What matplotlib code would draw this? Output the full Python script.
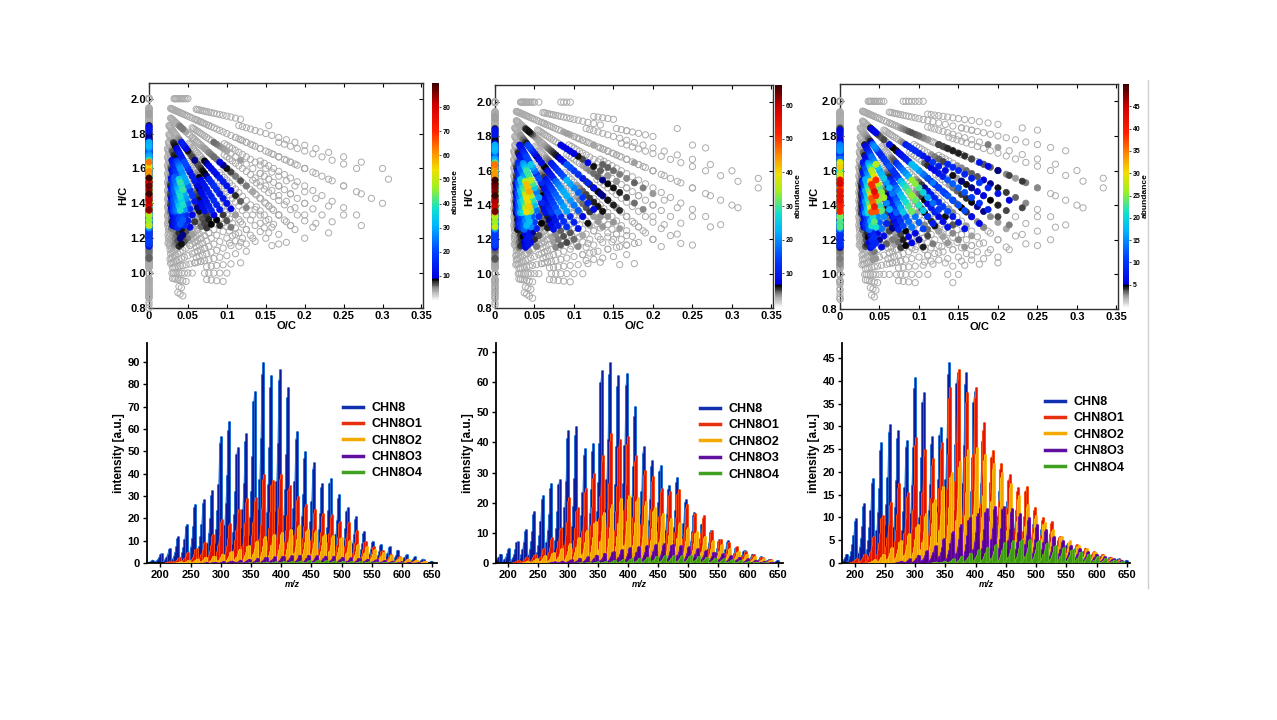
import numpy as np
import matplotlib
matplotlib.use('Agg')
import matplotlib.pyplot as plt
from matplotlib.colors import LinearSegmentedColormap, Normalize
from matplotlib.cm import ScalarMappable
from matplotlib.lines import Line2D

plt.rcParams['font.family'] = ['Liberation Sans', 'DejaVu Sans']

# compound classes shown in the spectra
classes = ['CHN8', 'CHN8O1', 'CHN8O2', 'CHN8O3', 'CHN8O4']
n_oxygen = [0, 1, 2, 3, 4]

# nominal mass of the first cluster of every class (clusters are 14 Da apart)
starts_d = [174, 218, 234, 278, 336]
starts_e = [174, 218, 234, 278, 322]
starts_f = [188, 204, 234, 278, 336]

# height of the tallest line in each cluster
d_chn8 = [1.0, 1.5, 4.5, 6.8, 12, 17.5, 26.5, 28.5, 32.5, 57, 63.5, 52, 58, 77, 90, 84, 87, 79,
          59, 50, 45, 36, 38, 31, 25, 21, 14.5, 10, 8.7, 7.5, 6, 4, 3, 2, 1]
d_o1 = [1, 2.5, 5, 6.5, 9.5, 13, 19.5, 18, 24, 29, 29.6, 40, 37, 40, 35, 30, 26.6, 24, 22.5, 22,
        19, 18.4, 14.7, 10, 7.5, 5.7, 4, 3, 2, 1.5, 1]
d_o2 = [0.7, 1.2, 2, 2.7, 3.3, 4.2, 5.4, 6.4, 8, 10, 12, 13, 14, 15.4, 17, 15.4, 14.7, 13, 12.4,
        11.7, 10.5, 8.7, 7.5, 6.4, 5, 3.7, 2.7, 2, 1.5, 0.9]
d_o3 = [0.3, 0.5, 0.8, 1.1, 1.5, 1.9, 2.3, 2.7, 3.0, 3.3, 3.5, 3.6, 3.6, 3.5, 3.3, 3.1, 2.8, 2.5,
        2.2, 1.9, 1.6, 1.3, 1.0, 0.7, 0.5, 0.3]
d_o4 = [0.2, 0.3, 0.4, 0.6, 0.7, 0.9, 1.0, 1.1, 1.2, 1.2, 1.2, 1.1, 1.0, 0.9, 0.8, 0.7, 0.5, 0.4,
        0.3, 0.2]

e_chn8 = [1.4, 3.1, 5.1, 7.3, 11.4, 17.3, 22.5, 26.4, 28, 44, 45.3, 38, 39.7, 64, 66.6, 62.5, 63,
          52, 38.8, 34.2, 32.5, 26, 28.6, 21.4, 17, 13.6, 10.9, 7.8, 7.5, 5.3, 4.4, 3.1, 2.2, 1.4, 0.9]
e_o1 = [1, 2, 3, 5, 8.5, 11.7, 22, 18.5, 25, 30, 35.8, 43, 41, 42, 36, 31, 29, 25, 24, 24.5, 19.5,
        16.5, 16, 11, 8, 7, 5.5, 4, 3, 2, 1.3]
e_o2 = [0.8, 1.5, 2.5, 3.5, 5, 6.5, 8.5, 11, 14, 17, 19.5, 21.5, 22.5, 22, 20.5, 18.5, 16.5, 15,
        13.5, 12, 10.5, 9, 7.5, 6.2, 5, 4, 3, 2.2, 1.5, 1]
e_o3 = [0.5, 0.8, 1.2, 1.7, 2.2, 2.8, 3.4, 4, 4.6, 5.2, 5.7, 6.1, 6.4, 6.5, 6.3, 6, 5.5, 5, 4.4,
        3.8, 3.2, 2.6, 2, 1.5, 1.1, 0.7, 0.4]
e_o4 = [0.2, 0.3, 0.5, 0.7, 0.9, 1.2, 1.5, 1.8, 2.1, 2.3, 2.5, 2.6, 2.6, 2.5, 2.3, 2.1, 1.8, 1.5,
        1.2, 0.9, 0.6, 0.4, 0.2]

f_chn8 = [2, 9.9, 13.2, 18.7, 26.5, 30.6, 29.3, 27, 40.9, 37.6, 27.8, 29.9, 44.1, 42, 41.9, 37.7,
          28.5, 19, 16.8, 14.5, 12.3, 10, 9, 8, 6.8, 5.4, 4.3, 3.5, 2.8, 2, 1.7, 1.3, 1, 0.7]
f_o1 = [1, 2, 6, 10.5, 13.5, 17.5, 15.5, 27.6, 25, 23, 26.6, 38.6, 42.7, 37.5, 38.6, 31, 24.8, 22,
        19.5, 16.7, 16.8, 12.3, 10, 9.3, 6, 4.6, 4.2, 3.4, 2.6, 2, 1.4, 0.8]
f_o2 = [0.8, 2, 3.5, 5, 6.5, 8.5, 11, 14, 17, 20, 22.5, 25, 25.5, 24, 22, 20, 17.5, 15, 13, 10.5,
        9, 7.5, 6, 5, 4, 3.2, 2.5, 1.8, 1.2, 0.7]
f_o3 = [0.5, 1, 1.8, 2.8, 4, 5.5, 7, 8.5, 10, 11, 12, 12.5, 12.5, 12, 11, 10, 8.5, 7.5, 6, 5, 4,
        3.3, 2.6, 2, 1.5, 1, 0.6]
f_o4 = [0.3, 0.5, 1, 1.6, 2.3, 3, 3.6, 4.1, 4.6, 5, 5.2, 5.3, 5, 4.5, 4, 3.5, 3, 2.5, 2, 1.5, 1.1,
        0.7, 0.4]

# carbon number of each class at an anchor mass
mass_anchor = [370, 372, 374, 376, 378]
carbon_anchor = [22, 23, 20, 16, 15]

# share of a cluster's abundance found at each H/C (read from the O/C = 0 strip)
hc_bins = [0.8, 0.9, 1.0, 1.1, 1.2, 1.3, 1.4, 1.5, 1.6, 1.7, 1.8, 1.9, 2.0]
hc_share = [0.005, 0.01, 0.025, 0.07, 0.22, 0.55, 0.95, 1.0, 0.7, 0.35, 0.14, 0.05, 0.015]
# smallest abundance that still shows up as a point
min_abundance = 0.3

# relative heights of the lines inside one spectral cluster (2 Da steps)
dbe_steps = [-4, -3, -2, -1, 0, 1, 2, 3, 4, 5, 6, 7, 8]
dbe_weights = [0.01, 0.015, 0.03, 0.08, 1.0, 0.94, 0.62, 0.42, 0.27, 0.16, 0.09, 0.05, 0.025]

fill_colors = ['#2a86e0', '#ff5a14', '#ffc21a', '#7a18b8', '#6cb828']
line_colors = ['#0a1c9c', '#e21400', '#f2a400', '#560090', '#3c9a12']
legend_colors = ['#1030b0', '#e83010', '#f5a800', '#6010a0', '#40a020']

# abundance colour scale: grey -> black -> jet
cmap = LinearSegmentedColormap.from_list('abund', [
    (0.00, '#f4f4f4'), (0.05, '#9a9a9a'), (0.095, '#000000'), (0.10, '#0000e0'),
    (0.22, '#0040ff'), (0.34, '#00b4ff'), (0.42, '#10e0d0'), (0.52, '#a0f020'),
    (0.60, '#f0e000'), (0.68, '#ff9000'), (0.78, '#ff2000'), (0.90, '#d00000'),
    (1.00, '#3a0000')])

W, H = 1277, 720
fig = plt.figure(figsize=(W / 100, H / 100), dpi=100)


def fr(x0, y0, x1, y1):
    return [x0 / W, 1 - y1 / H, (x1 - x0) / W, (y1 - y0) / H]


def points(starts, series):
    oc, hc, ab = [], [], []
    for o, m0, heights in zip(n_oxygen, starts, series):
        for k, top in enumerate(heights):
            m = m0 + 14 * k
            c = carbon_anchor[o] + (m - mass_anchor[o]) // 14
            for h in range(2 * c, int(0.78 * c), -2):
                r = h / c
                b = int(np.clip(np.rint((r - hc_bins[0]) / 0.1), 0, len(hc_bins) - 1))
                oc.append(o / c)
                hc.append(r)
                ab.append(top * hc_share[b])
    return np.array(oc), np.array(hc), np.array(ab)


def vk_panel(box, cbox, starts, series, vmax, cticks, letter, ylim_top):
    ax = fig.add_axes(fr(*box))
    oc, hc, ab = points(starts, series)
    keep = (hc >= 0.79) & (hc <= ylim_top) & (oc <= 0.35) & (ab >= min_abundance)
    oc, hc, ab = oc[keep], hc[keep], ab[keep]
    order = np.argsort(ab)
    oc, hc, ab = oc[order], hc[order], ab[order]
    norm = Normalize(0, vmax)
    low = ab < 0.045 * vmax
    ax.scatter(oc[low], hc[low], s=20, facecolors='none', edgecolors='#ababab',
               linewidths=0.7, zorder=3, clip_on=False)
    cols = cmap(norm(ab[~low]))
    ax.scatter(oc[~low], hc[~low], s=20, c=cols, edgecolors=cols, linewidths=0.5,
               zorder=4, clip_on=False)
    ax.set_xlim(0, 0.352)
    ax.set_ylim(0.8, ylim_top)
    ax.set_xticks([0, 0.05, 0.1, 0.15, 0.2, 0.25, 0.3, 0.35])
    ax.set_xticklabels(['0', '0.05', '0.1', '0.15', '0.2', '0.25', '0.3', '0.35'])
    ax.set_yticks([0.8, 1.0, 1.2, 1.4, 1.6, 1.8, 2.0])
    ax.set_yticklabels(['0.8', '1.0', '1.2', '1.4', '1.6', '1.8', '2.0'])
    ax.tick_params(direction='in', length=3, width=0.8, top=True, right=True,
                   labelsize=8, pad=2)
    for t in ax.get_xticklabels() + ax.get_yticklabels():
        t.set_fontweight('bold')
    for s in ax.spines.values():
        s.set_linewidth(1.0)
        s.set_color('#303030')
    ax.set_xlabel('O/C', fontsize=8, fontweight='bold', labelpad=0)
    ax.set_ylabel('H/C', fontsize=8, fontweight='bold', labelpad=2)
    fig.text(box[0] + 6 / W, 1 - (box[1] + 31) / H, letter, fontsize=18, va='baseline')

    cax = fig.add_axes(fr(*cbox))
    cb = fig.colorbar(ScalarMappable(norm=norm, cmap=cmap), cax=cax)
    cb.set_ticks(cticks)
    cb.outline.set_visible(False)
    cax.tick_params(length=1.5, width=0.5, labelsize=5, pad=1)
    cax.yaxis.get_offset_text().set_visible(False)
    for t in cax.get_yticklabels():
        t.set_fontweight('bold')
    cb.set_label('abundance', fontsize=6, fontweight='bold', labelpad=1)
    return ax


def ms_panel(box, starts, series, xlim, ylim, yticks, letter, leg_xy):
    ax = fig.add_axes(fr(*box))
    for o, m0, heights in zip(n_oxygen, starts, series):
        for k, top in enumerate(heights):
            m = m0 + 14 * k
            xs = [m - 2 * j for j in dbe_steps]
            ys = [top * w for w in dbe_weights]
            px = [xs[-1] - 0.8] + xs[::-1] + [xs[0] + 0.8]
            py = [0] + ys[::-1] + [0]
            ax.fill(px, py, color=fill_colors[o], lw=0, zorder=2 + o)
            ax.vlines(xs, 0, ys, color=fill_colors[o], lw=2.2, zorder=2 + o)
            ax.vlines(xs, 0, ys, color=line_colors[o], lw=1.0, zorder=2 + o)
    ax.set_xlim(*xlim)
    ax.set_ylim(*ylim)
    ax.set_xticks(range(200, 651, 50))
    ax.set_yticks(yticks)
    ax.spines['top'].set_visible(False)
    ax.spines['right'].set_visible(False)
    for s in ('left', 'bottom'):
        ax.spines[s].set_linewidth(1.3)
    ax.tick_params(length=3, width=1, labelsize=8, pad=2)
    for t in ax.get_xticklabels() + ax.get_yticklabels():
        t.set_fontweight('bold')
    ax.set_xlabel('m/z', fontsize=6.5, fontweight='bold', style='italic', labelpad=0)
    ax.set_ylabel('intensity [a.u.]', fontsize=8.5, fontweight='bold', labelpad=2)
    fig.text(box[0] + 8 / W, 1 - (box[1] + 30) / H, letter, fontsize=18, va='baseline')
    handles = [Line2D([], [], color=c, lw=2.5) for c in legend_colors]
    ax.legend(handles, classes, loc='upper left', bbox_to_anchor=(leg_xy[0] / W, 1 - leg_xy[1] / H),
              bbox_transform=fig.transFigure, frameon=False, borderpad=0, borderaxespad=0,
              handlelength=1.6, handletextpad=0.7, labelspacing=0.35,
              prop={'size': 9, 'weight': 'bold'})
    return ax


vk_panel((149, 83, 423, 308), (432, 83, 439, 300), starts_d,
         [d_chn8, d_o1, d_o2, d_o3, d_o4], 90, range(10, 81, 10), 'a)', 2.09)
vk_panel((495, 85, 773, 308), (775, 85, 782, 307), starts_e,
         [e_chn8, e_o1, e_o2, e_o3, e_o4], 66, range(10, 61, 10), 'b)', 2.1)
vk_panel((840, 84, 1118, 309), (1123, 84, 1129, 307), starts_f,
         [f_chn8, f_o1, f_o2, f_o3, f_o4], 50, range(5, 46, 5), 'c)', 2.1)

ms_panel((147, 343, 437, 563), starts_d, [d_chn8, d_o1, d_o2, d_o3, d_o4],
         (178, 658), (0, 98.5), range(0, 91, 10), 'd)', (343, 402))
ms_panel((496, 343, 783, 563), starts_e, [e_chn8, e_o1, e_o2, e_o3, e_o4],
         (180, 658), (0, 73), range(0, 71, 10), 'e)', (700, 403))
ms_panel((842, 343, 1130, 563), starts_f, [f_chn8, f_o1, f_o2, f_o3, f_o4],
         (179, 655), (0, 48.3), range(0, 46, 5), 'f)', (1045, 396))

fig.add_artist(Line2D([1148 / W, 1148 / W], [1 - 80 / H, 1 - 588 / H],
                      transform=fig.transFigure, color='#cfcfcf', lw=1))

fig.savefig('out.png', dpi=100)
